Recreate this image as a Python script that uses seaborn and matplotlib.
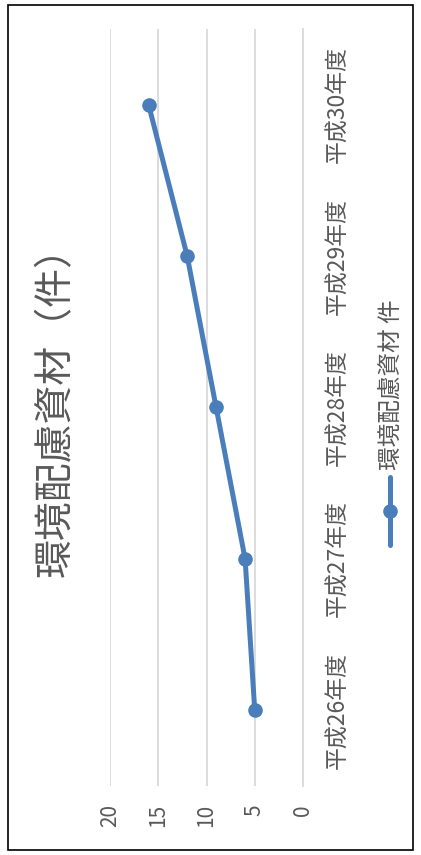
import matplotlib
matplotlib.use('Agg')
import matplotlib.pyplot as plt
import seaborn as sns
import pandas as pd
from matplotlib.lines import Line2D
from matplotlib.patches import Rectangle

# データ
categories = ['平成26年度', '平成27年度', '平成28年度', '平成29年度', '平成30年度']
values = [5, 6, 9, 12, 16]
series_name = '環境配慮資材 件'
title = '環境配慮資材（件）'
value_ticks = [0, 5, 10, 15, 20]

sns.set_style('white')
plt.rcParams['font.family'] = ['Noto Sans CJK JP', 'DejaVu Sans']

color = '#4a7ebb'
gray = '#595959'

df = pd.DataFrame({
    'pos': range(len(categories)),
    'value': values,
})

fig = plt.figure(figsize=(4.21, 8.55), dpi=100)
ax = fig.add_axes([110/421, 1 - 786/855, (303-110)/421, (786-29)/855])

sns.lineplot(
    data=df,
    x='value',
    y='pos',
    orient='y',
    sort=False,
    color=color,
    linewidth=3.6,
    marker='o',
    markersize=10.5,
    markeredgewidth=0,
    ax=ax
)

# 値の軸（右が0、左が20）
ax.set_xlim(20, 0)
ax.set_xticks(value_ticks)
ax.set_xticklabels([str(v) for v in value_ticks], rotation=90, color=gray, fontsize=15)
ax.xaxis.grid(True, color='#d9d9d9', linewidth=1.3)
ax.tick_params(axis='x', length=0, pad=13)

# 項目の軸（右側）
ax.set_ylim(-0.5, len(categories) - 0.5)
ax.set_yticks(range(len(categories)))
ax.set_yticklabels(categories, rotation=90, va='center', color=gray, fontsize=16.5)
ax.yaxis.tick_right()
ax.tick_params(axis='y', length=0, pad=17)

for s in ['top', 'bottom', 'left']:
    ax.spines[s].set_visible(False)
ax.spines['right'].set_color('#d9d9d9')
ax.spines['right'].set_linewidth(1.3)

ax.set_xlabel('')
ax.set_ylabel('')

# タイトル
fig.text(56/421, 1 - 402/855, title, rotation=90, ha='center', va='center',
         fontsize=28, color=gray)

# 凡例
fig.add_artist(Line2D([390/421, 390/421], [1 - 545/855, 1 - 477/855],
                      color=color, linewidth=3.6, transform=fig.transFigure))
fig.add_artist(Line2D([390/421], [1 - 511/855], marker='o', markersize=10.5,
                      markeredgewidth=0, color=color, transform=fig.transFigure))
fig.text(391/421, 1 - 385/855, series_name, rotation=90, ha='center', va='center',
         fontsize=17, color=gray)

# 外枠
fig.add_artist(Rectangle((8/421, 5/855), (413-8)/421, (850-5)/855,
                         fill=False, edgecolor='black', linewidth=1.2,
                         transform=fig.transFigure))

fig.savefig('out.png', dpi=100)
